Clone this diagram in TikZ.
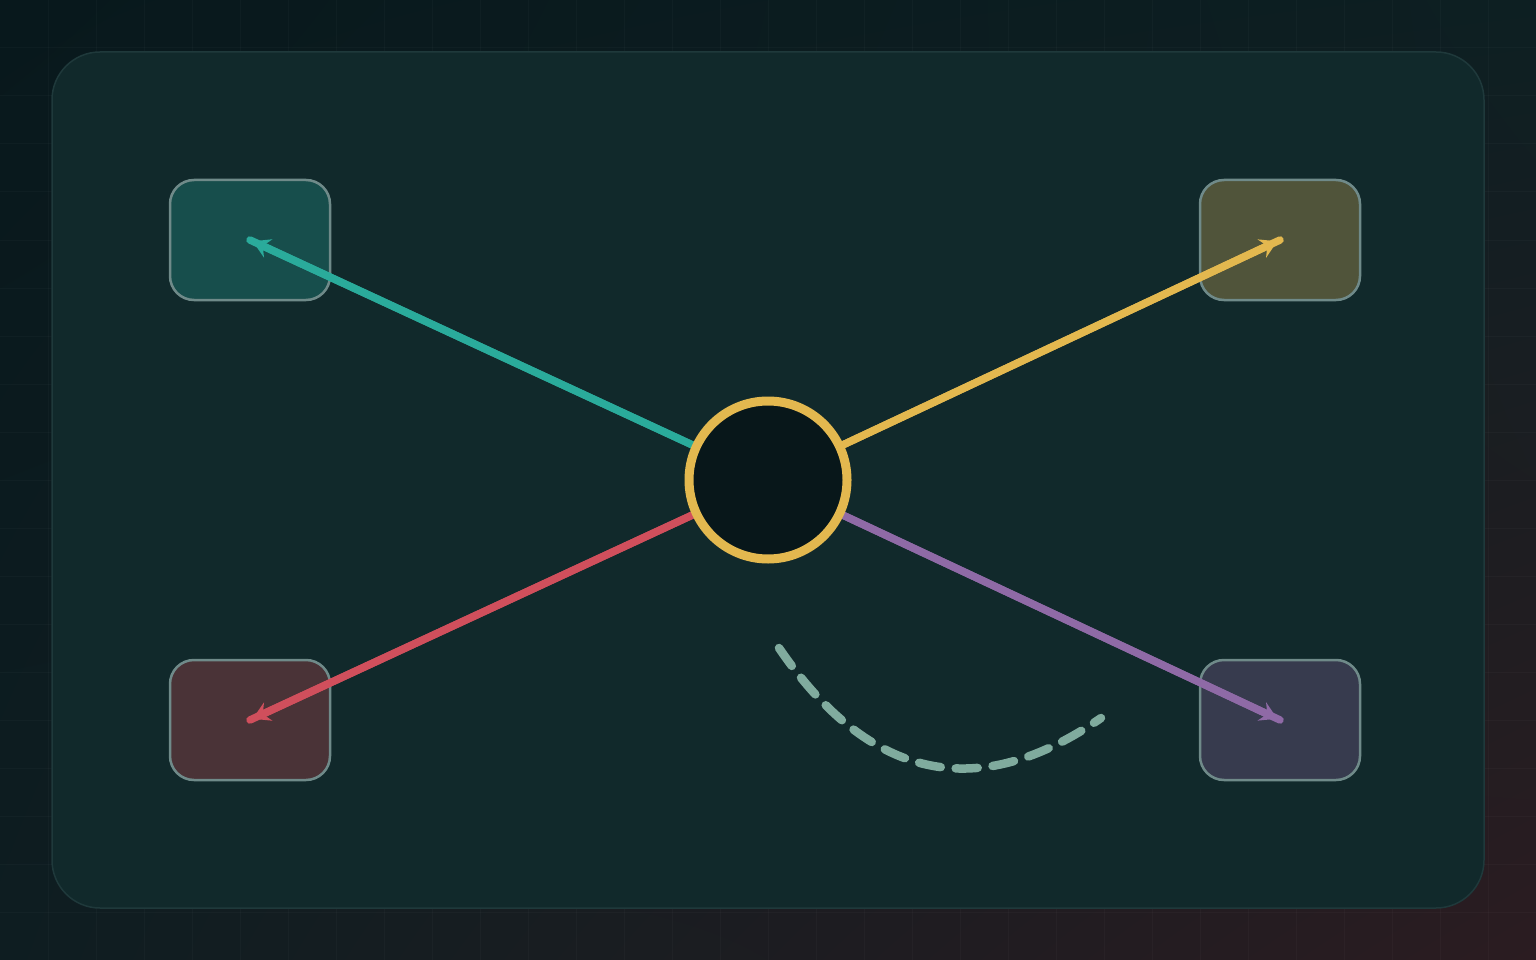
\documentclass[tikz,border=0pt]{standalone}
\usetikzlibrary{arrows.meta,shadings}
\definecolor{bgA}{HTML}{08181C}
\definecolor{bgB}{HTML}{0D1F22}
\definecolor{bgC}{HTML}{0E1D21}
\definecolor{bgD}{HTML}{2B1C21}
\definecolor{panel}{HTML}{11292B}
\definecolor{panelline}{HTML}{1F393B}
\definecolor{hubfill}{HTML}{08171A}
\definecolor{cteal}{HTML}{2AAB9B}
\definecolor{cyellow}{HTML}{E3B84F}
\definecolor{cred}{HTML}{D04F5C}
\definecolor{cpurple}{HTML}{8F6AA6}
\definecolor{fteal}{HTML}{174E4C}
\definecolor{fyellow}{HTML}{50543A}
\definecolor{fred}{HTML}{4A3337}
\definecolor{fpurple}{HTML}{373B4E}
\definecolor{boxline}{HTML}{6F8A89}
\definecolor{dashc}{HTML}{80AB9E}
\tikzset{
  boxnode/.style={draw=boxline, line width=2.5pt, rounded corners=24pt,
    minimum width=160pt, minimum height=120pt, inner sep=0pt},
  link/.style={line width=7.5pt, line cap=round},
  tip/.style={line width=7.5pt, -{Stealth[length=17pt,width=20pt,inset=6pt]}, shorten >=3pt},
}
\begin{document}
\begin{tikzpicture}[x=1pt,y=-1pt]
\useasboundingbox (0,0) rectangle (1536,960);
\shade[upper left=bgA, upper right=bgB, lower left=bgC, lower right=bgD] (0,0) rectangle (1536,960);
\foreach \i in {48,96,...,1535} \draw[white, opacity=0.025, line width=1pt] (\i,0) -- (\i,960);
\foreach \j in {48,96,...,959} \draw[white, opacity=0.025, line width=1pt] (0,\j) -- (1536,\j);
\draw[fill=panel, draw=panelline, line width=1.5pt, rounded corners=48pt] (52,52) rectangle (1484,908);
\node[boxnode, fill=fteal] (b1) at (250,240) {};
\node[boxnode, fill=fyellow] (b2) at (1280,240) {};
\node[boxnode, fill=fred] (b3) at (250,720) {};
\node[boxnode, fill=fpurple] (b4) at (1280,720) {};
\coordinate (hc) at (768,480);
\draw[link, cteal] (hc) -- (b1.center);
\draw[tip, cteal] (hc) -- (b1.center);
\draw[link, cyellow] (hc) -- (b2.center);
\draw[tip, cyellow] (hc) -- (b2.center);
\draw[link, cred] (hc) -- (b3.center);
\draw[tip, cred] (hc) -- (b3.center);
\draw[link, cpurple] (hc) -- (b4.center);
\draw[tip, cpurple] (hc) -- (b4.center);
\node[circle, draw=cyellow, fill=hubfill, line width=9pt, minimum size=158pt, inner sep=0pt, outer sep=0pt] (hub) at (hc) {};
\coordinate (ds) at (779,648);
\coordinate (de) at (1101,718);
\draw[dashc, line width=8.5pt, line cap=round, dash pattern=on 22pt off 15pt]
  (ds) .. controls (869,780) and (977,804) .. (de);
\end{tikzpicture}
\end{document}
